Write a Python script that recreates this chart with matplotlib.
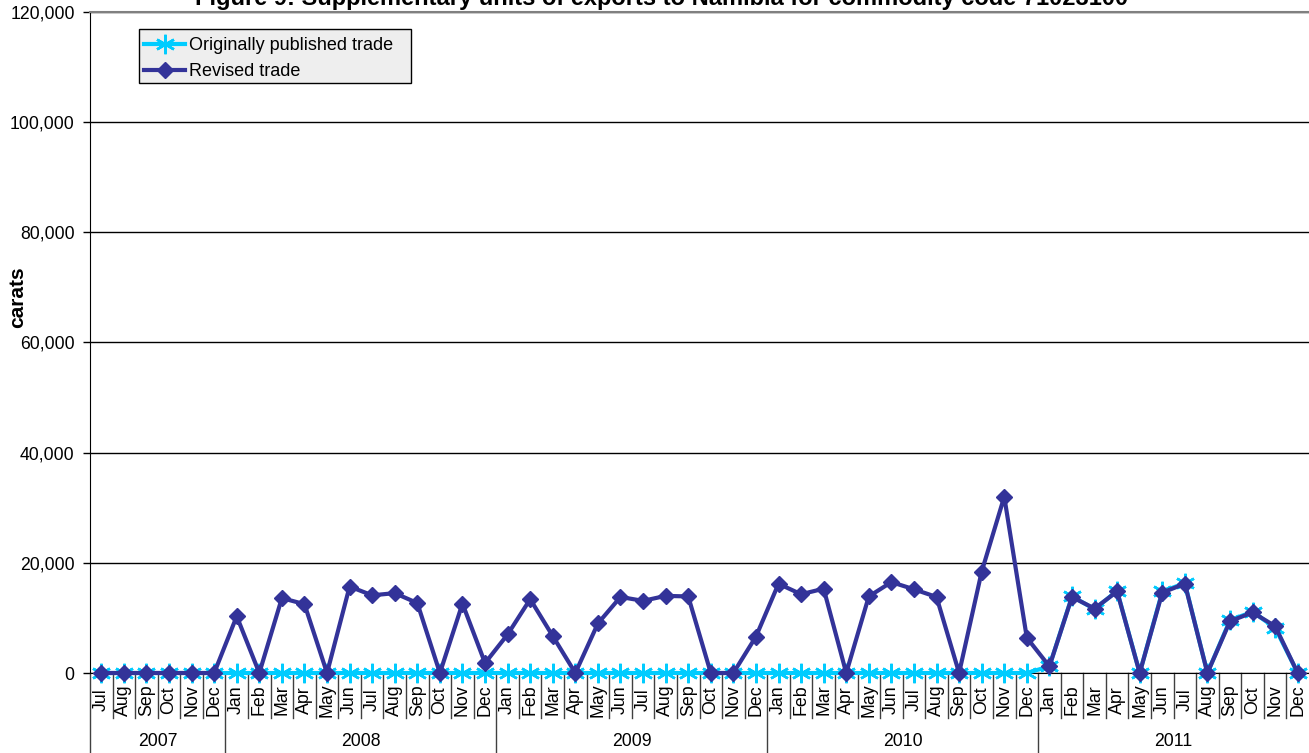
import matplotlib
matplotlib.use('Agg')
import matplotlib.pyplot as plt
from matplotlib.transforms import blended_transform_factory
from matplotlib.ticker import FuncFormatter
from matplotlib.lines import Line2D
from matplotlib.patches import Rectangle

plt.rcParams['font.family'] = ['Liberation Sans', 'DejaVu Sans']

title = "Figure 9: Supplementary units of exports to Namibia for commodity code 71023100"
ylabel = "carats"

years = ['2007', '2008', '2009', '2010', '2011']
year_counts = [6, 12, 12, 12, 12]
month_names = ['Jan', 'Feb', 'Mar', 'Apr', 'May', 'Jun', 'Jul', 'Aug', 'Sep', 'Oct', 'Nov', 'Dec']
months = month_names[6:] + month_names * 4

revised = [
    0, 0, 0, 0, 0, 0,
    10300, 0, 13600, 12500, 0, 15700, 14100, 14500, 12700, 0, 12600, 1800,
    7000, 13400, 6700, 0, 9000, 13800, 13100, 14000, 13900, 0, 0, 6600,
    16200, 14300, 15300, 0, 13900, 16500, 15200, 13800, 0, 18400, 32000, 6400,
    1200, 13800, 11700, 14800, 0, 14600, 16200, 0, 9400, 11000, 8500, 0,
]
original = [0] * 42 + [
    1200, 13900, 11600, 14900, 0, 14800, 16300, 0, 9600, 11100, 8200, 0,
]

W, H = 1309, 753
fig = plt.figure(figsize=(W / 100, H / 100), dpi=100)
ax_left, ax_right, ax_top, ax_bot = 90, 1309, 12, 673
ax = fig.add_axes([ax_left / W, 1 - ax_bot / H, (ax_right - ax_left) / W, (ax_bot - ax_top) / H])
ah = ax_bot - ax_top

x = list(range(len(months)))
ax.plot(x, original, color='#00CCFF', lw=3, marker=(6, 2, 0), ms=14, mew=1.8,
        label='Originally published trade', zorder=3, clip_on=False)
ax.plot(x, revised, color='#333399', lw=3, marker='D', ms=8,
        label='Revised trade', zorder=4, clip_on=False)

ax.set_xlim(-0.5, len(months) - 0.5)
ax.set_ylim(0, 120000)
ax.set_yticks(range(0, 120001, 20000))
ax.yaxis.set_major_formatter(FuncFormatter(lambda v, p: f"{int(v):,}"))
ax.tick_params(axis='y', labelsize=12.7, length=5, width=1, color='black', pad=6)
ax.set_xticks([])
ax.yaxis.grid(True, color='black', lw=1)
ax.set_axisbelow(True)
ax.spines['right'].set_visible(False)
ax.spines['top'].set_color('#808080')
ax.spines['top'].set_linewidth(1.5)
ax.spines['left'].set_color('black')
ax.spines['bottom'].set_color('black')

fig.text(18 / W, 1 - 297 / H, ylabel, rotation=90, fontsize=15, fontweight='bold',
         ha='center', va='center')
fig.text(662 / W, 1 - 5 / H, title, fontsize=17, fontweight='bold', ha='center', va='baseline')

tr = blended_transform_factory(ax.transData, ax.transAxes)

def py(p):
    return -(p - ax_bot) / ah

# month labels and separators
for i, m in enumerate(months):
    ax.text(i, py(700), m, rotation=90, ha='center', va='center', fontsize=12.8,
            transform=tr, clip_on=False)
boundaries = []
acc = 0
for c in year_counts:
    boundaries.append(acc)
    acc += c
for i in range(1, len(months)):
    if i in boundaries:
        continue
    ax.add_line(Line2D([i - 0.5, i - 0.5], [0, py(718)], transform=tr, color='#404040',
                       lw=1, clip_on=False))
for b in boundaries:
    ax.add_line(Line2D([b - 0.5, b - 0.5], [0, py(753)], transform=tr, color='#404040',
                       lw=1, clip_on=False))
for y, b, c in zip(years, boundaries, year_counts):
    ax.text(b + (c - 1) / 2, py(742), y, ha='center', va='center', fontsize=12.7,
            transform=tr, clip_on=False)

# legend with a custom frame
frame = Rectangle((139 / W, 1 - 83 / H), (411 - 139) / W, (83 - 29) / H,
                  transform=fig.transFigure, facecolor='#EEEEEE',
                  edgecolor='black', lw=1, zorder=5, clip_on=False)
ax.add_patch(frame)
leg = ax.legend(loc='upper left', bbox_to_anchor=(144 / W, 1 - 37 / H),
                bbox_transform=fig.transFigure, fontsize=13, frameon=False,
                handlelength=2.28, handletextpad=0.22, borderpad=0, labelspacing=0.52,
                borderaxespad=0)
leg.set_zorder(6)

fig.savefig('out.png', dpi=100)
